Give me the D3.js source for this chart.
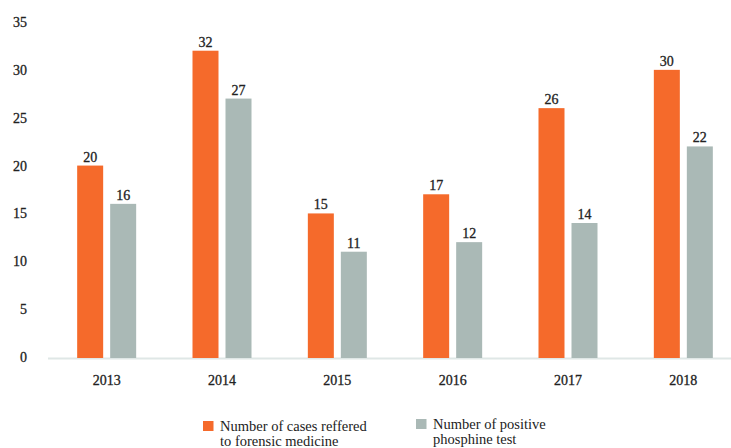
<!DOCTYPE html>
<html>
<head>
<meta charset="utf-8">
<script src="https://cdn.jsdelivr.net/npm/d3@7"></script>
<style>
  body { margin: 0; background: #fff; }
</style>
</head>
<body>
<div id="chart"></div>
<script>
// data
var years = ["2013", "2014", "2015", "2016", "2017", "2018"];
var referred = [20, 32, 15, 17, 26, 30];
var positive = [16, 27, 11, 12, 14, 22];
var seriesNames = ["Number of cases reffered to forensic medicine", "Number of positive phosphine test"];
var legendLines = [["Number of cases reffered", "to forensic medicine"], ["Number of positive", "phosphine test"]];
var yTicks = [0, 5, 10, 15, 20, 25, 30, 35];
var colors = ["#f56a2b", "#aab9b6"];

var width = 731, height = 448;
var serif = "'Liberation Serif', 'Times New Roman', serif";

var svg = d3.select("#chart")
  .append("svg")
    .attr("width", width)
    .attr("height", height);

var y = d3.scaleLinear()
  .domain([0, 35])
  .range([357, 22]);

var x0 = d3.scaleBand()
  .domain(years)
  .range([49, 741]);

var x1 = d3.scaleBand()
  .domain([0, 1])
  .range([0, 59])
  .paddingInner(7 / 33);

var rows = years.map(function(yr, i) {
  return {year: yr, values: [referred[i], positive[i]]};
});

// baseline
svg.append("line")
  .attr("x1", 48)
  .attr("x2", width)
  .attr("y1", 358.5)
  .attr("y2", 358.5)
  .style("stroke", "#dfe7e6")
  .style("stroke-width", 2);

// y axis labels
var yAxis = svg.append("g")
  .attr("transform", "translate(27,0)")
  .call(d3.axisLeft(y).tickValues(yTicks).tickSize(0).tickPadding(0));
yAxis.select(".domain").remove();
yAxis.selectAll("text")
  .style("font-family", serif)
  .style("font-size", "14px")
  .style("fill", "#222")
  .style("stroke", "#222")
  .style("stroke-width", 0.3);

// x axis labels
var xAxis = svg.append("g")
  .attr("transform", "translate(0,375)")
  .call(d3.axisBottom(x0).tickSize(0).tickPadding(0));
xAxis.select(".domain").remove();
xAxis.selectAll("text")
  .style("font-family", serif)
  .style("font-size", "14px")
  .style("fill", "#222")
  .style("stroke", "#222")
  .style("stroke-width", 0.3);

var groups = svg.selectAll(".grp")
  .data(rows)
  .enter()
  .append("g")
  .attr("class", "grp")
  .attr("transform", function(d) { return "translate(" + (x0(d.year) + x0.bandwidth() / 2 - 29.5) + ",0)"; });

groups.selectAll("rect")
  .data(function(d) { return d.values; })
  .enter()
  .append("rect")
  .attr("x", function(d, i) { return x1(i); })
  .attr("y", function(d) { return y(d); })
  .attr("width", x1.bandwidth())
  .attr("height", function(d) { return y(0) - y(d) + 1; })
  .style("fill", function(d, i) { return colors[i]; });

groups.selectAll(".val")
  .data(function(d) { return d.values; })
  .enter()
  .append("text")
  .attr("class", "val")
  .attr("x", function(d, i) { return x1(i) + x1.bandwidth() / 2; })
  .attr("y", function(d) { return y(d) - 4; })
  .style("text-anchor", "middle")
  .style("font-family", serif)
  .style("font-size", "14px")
  .style("fill", "#222")
  .style("stroke", "#222")
  .style("stroke-width", 0.3)
  .text(function(d) { return d; });

// legend
var legendX = [203, 416];
var legend = svg.selectAll(".legend")
  .data(seriesNames)
  .enter()
  .append("g")
  .attr("class", "legend")
  .attr("transform", function(d, i) { return "translate(" + legendX[i] + "," + (i == 0 ? 421 : 419) + ")"; });

legend.append("rect")
  .attr("width", 10.5)
  .attr("height", 10)
  .style("fill", function(d, i) { return colors[i]; });

legend.append("text")
  .attr("x", 17)
  .attr("y", 10)
  .style("font-family", serif)
  .style("font-size", "14.5px")
  .style("fill", "#222")
  .selectAll("tspan")
  .data(function(d, i) { return legendLines[i]; })
  .enter()
  .append("tspan")
  .attr("x", 17)
  .attr("dy", function(d, j) { return j == 0 ? 0 : 15; })
  .text(function(d) { return d; });
</script>
</body>
</html>
